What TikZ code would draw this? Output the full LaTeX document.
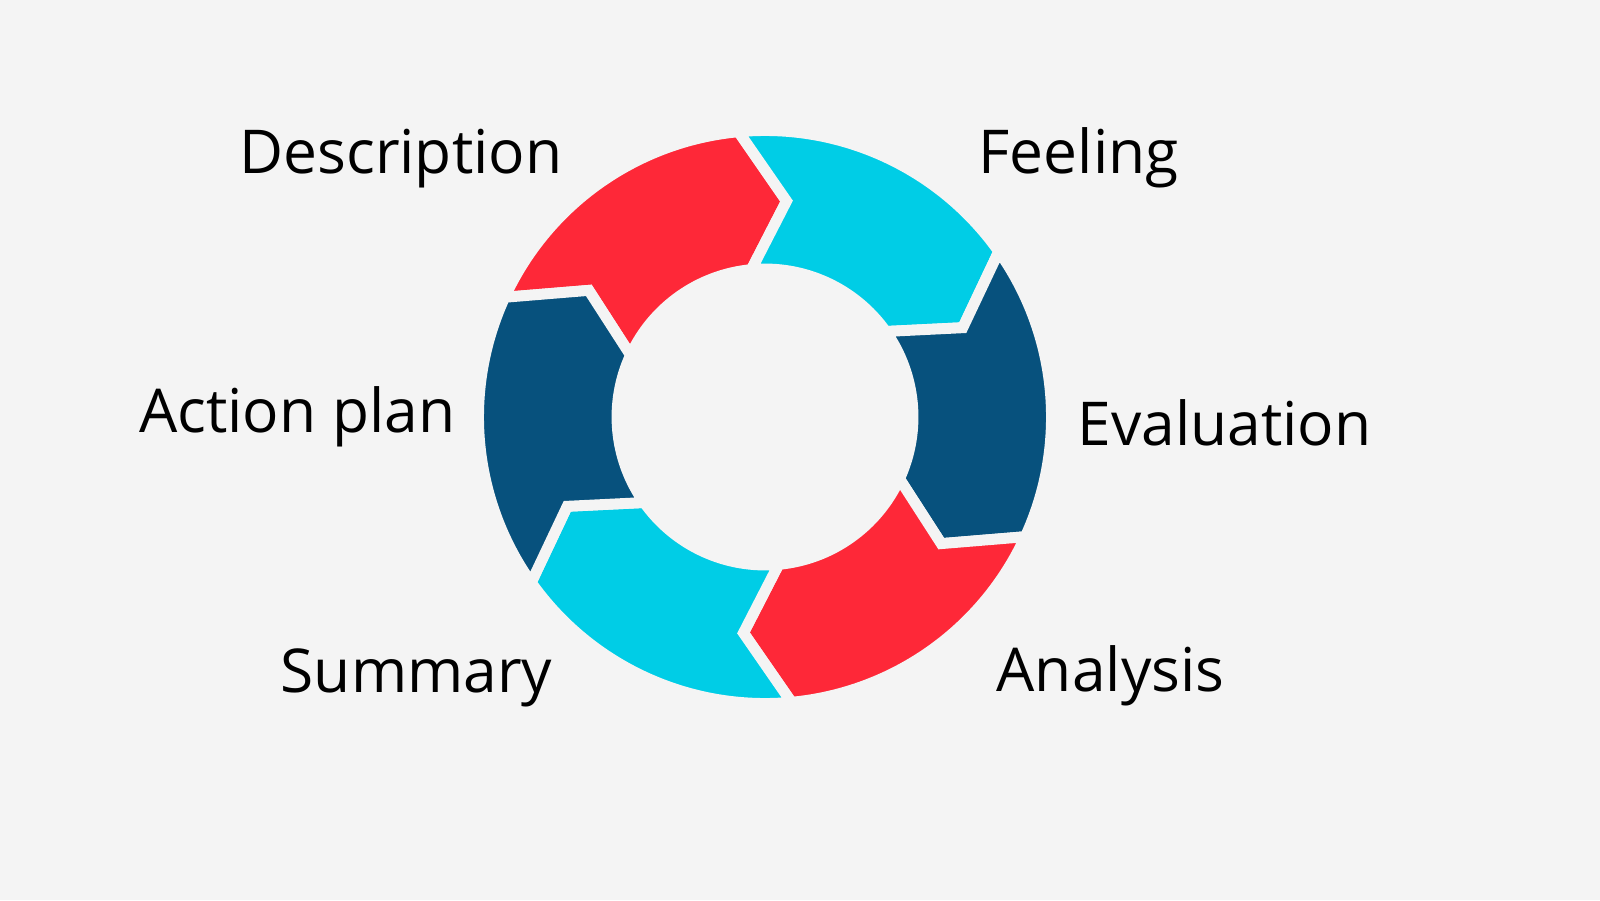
\documentclass[tikz,border=0pt]{standalone}
\usepackage{fontspec}
\setmainfont{Open Sans}
\usetikzlibrary{positioning}
\definecolor{bg}{HTML}{F4F4F4}
\definecolor{redseg}{HTML}{FE2838}
\definecolor{cyanseg}{HTML}{00CDE6}
\definecolor{navyseg}{HTML}{07517D}
\begin{document}
\begin{tikzpicture}[label/.style={inner sep=0pt,font=\fontsize{17.2}{20}\selectfont,text=black}]
  \fill[bg] (0,0) rectangle (16,9);
  % ring of six arrow segments, clockwise
  \begin{scope}[shift={(7.65,4.83)}]
    \foreach \a/\col in {155.3/redseg,95.3/cyanseg,35.3/navyseg,-24.7/redseg,-84.7/cyanseg,-144.7/navyseg}
      \filldraw[fill=\col,draw=bg,line width=3.1pt,line join=miter]
        (\a:2.865) arc[start angle=\a,end angle=\a-60,radius=2.865]
        -- (\a-71:2.17) -- (\a-60:1.48)
        arc[start angle=\a-60,end angle=\a,radius=1.48]
        -- (\a-11:2.17) -- cycle;
  \end{scope}
  \node[label,anchor=base east] (description) at (5.63,7.26) {Description};
  \node[label,anchor=base west] (feeling) at (9.78,7.26) {Feeling};
  \node[label,anchor=base east] (actionplan) at (4.56,4.68) {Action plan};
  \node[label,anchor=base west] (evaluation) at (10.77,4.55) {Evaluation};
  \node[label,anchor=base east] (summary) at (5.53,2.08) {Summary};
  \node[label,anchor=base west] (analysis) at (9.96,2.09) {Analysis};
\end{tikzpicture}
\end{document}
